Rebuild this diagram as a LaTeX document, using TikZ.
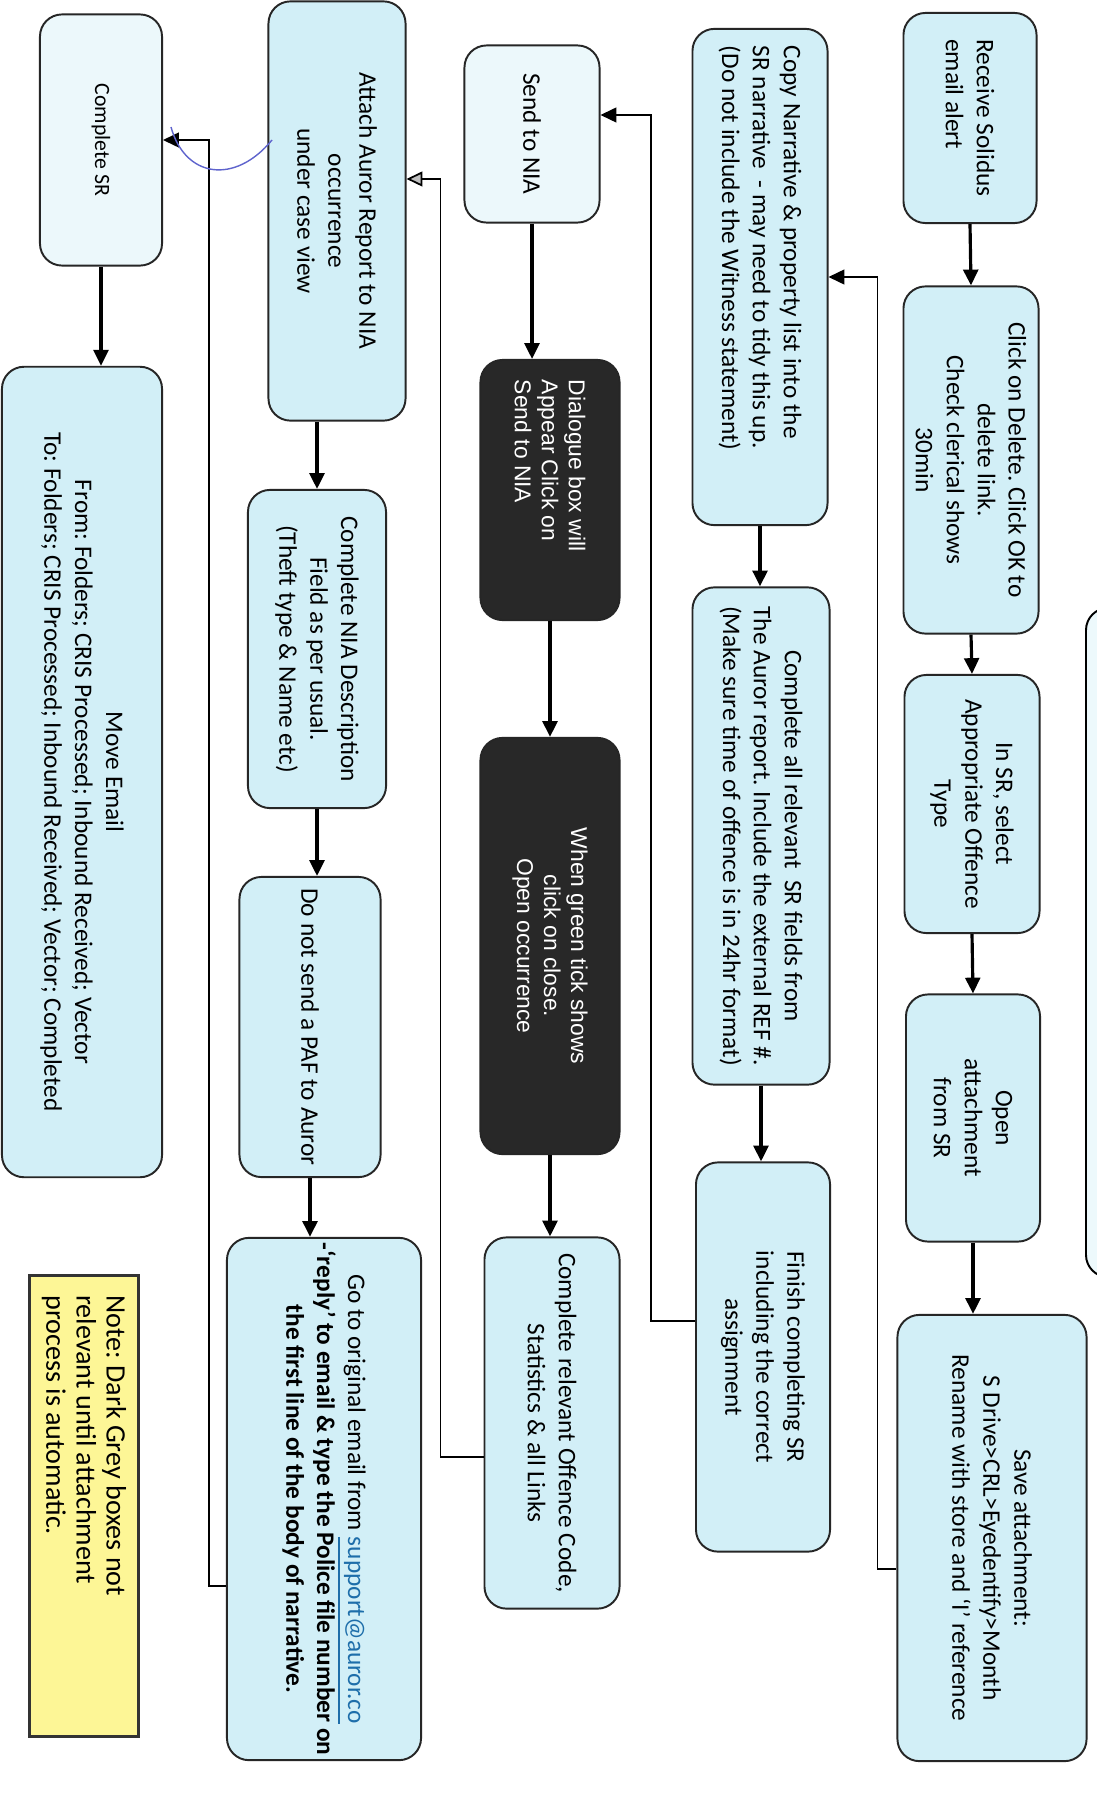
\documentclass[tikz,border=0pt]{standalone}
\usepackage{fontspec}
\setmainfont{Carlito}
\newfontfamily\arialfont{Liberation Sans}
\usetikzlibrary{arrows.meta}
\definecolor{boxblue}{RGB}{210,239,247}
\definecolor{boxpale}{RGB}{236,248,251}
\definecolor{boxdark}{RGB}{40,40,40}
\definecolor{noteyellow}{RGB}{253,246,150}
\definecolor{linkblue}{RGB}{30,110,170}
\definecolor{penblue}{RGB}{95,100,205}
\frenchspacing

\begin{document}
\begin{tikzpicture}[x=0.01cm,y=-0.01cm,
  stepbox/.style={draw=black!85,line width=0.55pt,rounded corners=0.22cm,fill=boxblue,
    rotate=-90,inner sep=0pt,align=center,font=\fontsize{7.2}{8.8}\selectfont},
  palebox/.style={stepbox,fill=boxpale},
  darkbox/.style={stepbox,fill=boxdark,text=white,font=\arialfont\fontsize{6.5}{7.7}\selectfont},
  notebox/.style={draw=black!80,line width=1pt,fill=noteyellow,rotate=-90,align=flush left,
    inner xsep=0.2cm,inner ysep=0pt,font=\fontsize{8}{8.6}\selectfont},
  flow/.style={-{Triangle[length=4.5pt,width=4.2pt]},line width=0.9pt},
  back/.style={-{Triangle[length=4.5pt,width=4.2pt]},line width=0.5pt}]

\fill[white] (0,0) rectangle (1096,1809);
\useasboundingbox (0,0) rectangle (1096,1809);

% Box cut off at the page edge
\draw[line width=0.55pt,rounded corners=0.22cm,fill=boxblue!40] (1086,608) rectangle (1200,1277);

% First column
\node[stepbox,align=left,minimum width=2.10cm,minimum height=1.33cm] (recv) at (970,118) {Receive Solidus\\email alert};
\node[stepbox,minimum width=3.47cm,minimum height=1.35cm] (del) at (971,460) {Click on Delete. Click OK to\\delete link.\\Check clerical shows\\30min};
\node[stepbox,minimum width=2.58cm,minimum height=1.35cm] (offtype) at (972,804) {In SR, select\\Appropriate Offence\\Type};
\node[stepbox,minimum width=2.47cm,minimum height=1.34cm] (openatt) at (973,1118) {Open\\attachment\\from SR};
\node[stepbox,minimum width=4.46cm,minimum height=1.89cm] (saveatt) at (992,1538) {Save attachment:\\S Drive>CRL>Eyedentify>Month\\Rename with store and ‘I’ reference};

% Second column
\node[stepbox,align=flush left,inner xsep=0.17cm,text width=4.62cm,minimum height=1.35cm] (narr) at (760,277) {Copy Narrative \& property list into the\\SR narrative\ \ - may need to tidy this up.\\(Do not include the Witness statement)};
\node[stepbox,minimum width=4.97cm,minimum height=1.37cm] (fields) at (761,836) {Complete all relevant\ \ SR fields from\\The Auror report. Include the external REF \#.\\(Make sure time of offence is in 24hr format)};
\node[stepbox,minimum width=3.89cm,minimum height=1.34cm] (finish) at (763,1357) {Finish completing SR\\including the correct\\assignment};

% Third column
\node[palebox,minimum width=1.77cm,minimum height=1.35cm] (send) at (532,134) {Send to NIA};
\node[darkbox,align=flush left,inner xsep=0.2cm,text width=2.20cm,minimum height=1.39cm] (dialog) at (550,490) {Dialogue box will\\Appear Click on\\Send to NIA};
\node[darkbox,minimum width=4.16cm,minimum height=1.39cm] (tick) at (550,946) {When green tick shows\\click on close.\\Open occurrence};
\node[stepbox,minimum width=3.71cm,minimum height=1.35cm] (offcode) at (552,1423) {Complete relevant Offence Code,\\Statistics \& all Links};

% Fourth column
\node[stepbox,minimum width=4.19cm,minimum height=1.37cm] (attach) at (337,211) {Attach Auror Report to NIA\\occurrence\\under case view};
\node[stepbox,minimum width=3.18cm,minimum height=1.38cm] (niadesc) at (317,649) {Complete NIA Description\\Field as per usual.\\(Theft type \& Name etc)};
\node[stepbox,minimum width=3.00cm,minimum height=1.41cm] (nopaf) at (310,1027) {Do not send a PAF to Auror};
\node[stepbox,minimum width=5.22cm,minimum height=1.94cm] (email) at (324,1499) {Go to original email from \textcolor{linkblue}{\underline{support@auror.co}}\\\textbf{-‘reply’ to email \& type the Police file number on}\\\textbf{the first line of the body of narrative.}};

% Last column
\node[palebox,font=\fontsize{6.2}{7.6}\selectfont,minimum width=2.51cm,minimum height=1.22cm] (compsr) at (101,140) {Complete SR};
\node[stepbox,minimum width=8.10cm,minimum height=1.60cm] (move) at (82,772) {Move Email\\From: Folders; CRIS Processed; Inbound Received; Vector\\To: Folders; CRIS Processed; Inbound Received; Vector; Completed};

% Note
\node[notebox,text width=4.21cm,minimum height=1.09cm] (note) at (84,1506) {Note: Dark Grey boxes not\\relevant until attachment\\process is automatic.};

% Steps within each column
\draw[flow] (recv.east) -- (del.west);
\draw[flow] (del.east) -- (offtype.west);
\draw[flow] (offtype.east) -- (openatt.west);
\draw[flow] (openatt.east) -- (openatt.east |- saveatt.west);
\draw[flow] (narr.east) -- (narr.east |- fields.west);
\draw[flow] (fields.east) -- (fields.east |- finish.west);
\draw[flow] (send.east) -- (send.east |- dialog.west);
\draw[flow] (dialog.east) -- (tick.west);
\draw[flow] (tick.east) -- (tick.east |- offcode.west);
\draw[flow] (niadesc.west |- attach.east) -- (niadesc.west);
\draw[flow] (niadesc.east) -- (niadesc.east |- nopaf.west);
\draw[flow] (nopaf.east) -- (nopaf.east |- email.west);
\draw[flow] (compsr.east) -- (compsr.east |- move.west);

% Return lines to the next column
\draw[back] ([yshift=-0.31cm]saveatt.south) -- ++(-19,0) |- (narr.north);
\draw[back] ([yshift=0.36cm]finish.south) -- ++(-44,0) |- ([yshift=0.19cm]send.north);
\draw[-{Triangle[length=4.5pt,width=4.2pt,fill=black!25]},line width=0.5pt] ([yshift=-0.34cm]offcode.south) -- ++(-43,0) |- ([yshift=0.32cm]attach.north);
\draw[back] ([yshift=-0.87cm]email.south) -- ++(-17,0) |- (compsr.north);

% Pen mark
\draw[penblue,line width=0.4pt] (171,127) .. controls (185,178) and (235,185) .. (272,140);

\end{tikzpicture}
\end{document}
